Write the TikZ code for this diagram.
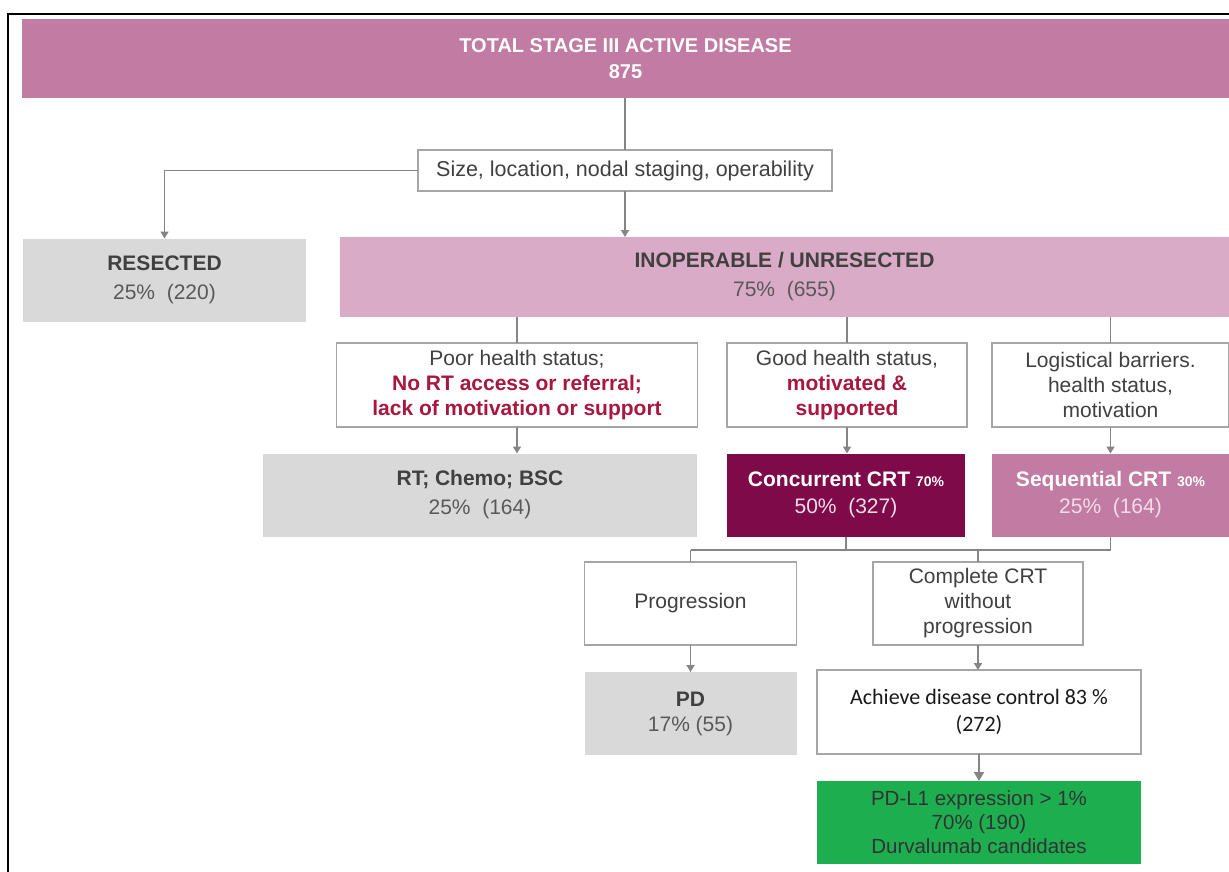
\documentclass[tikz,border=0pt]{standalone}
\usepackage{fontspec}
\setmainfont{Liberation Sans}
\newfontfamily\calib{Carlito}
\usetikzlibrary{arrows.meta}
\definecolor{mauve}{HTML}{C27BA2}
\definecolor{lpink}{HTML}{D9ABC7}
\definecolor{lgray}{HTML}{D9D9D9}
\definecolor{maroon}{HTML}{7E0A4A}
\definecolor{gbox}{HTML}{1DAF4F}
\definecolor{redt}{HTML}{A8173F}
\definecolor{txt}{HTML}{404040}
\definecolor{numt}{HTML}{595959}
\definecolor{lin}{HTML}{858585}
\definecolor{bord}{HTML}{A6A6A6}
\definecolor{ptxt}{HTML}{F3DDE9}
\begin{document}
\begin{tikzpicture}[x=1pt,y=-1pt,
  box/.style={inner sep=0pt, outer sep=0pt, align=center, text=txt, font=\fontsize{21}{25}\selectfont},
  wbox/.style={box, fill=white, draw=bord, line width=1.2pt},
  link/.style={draw=lin, line width=1.5pt},
  arr/.style={link, -{Triangle[width=8pt,length=7pt]}},
  two/.style={font=\fontsize{21}{29}\selectfont}]
\useasboundingbox (0,0) rectangle (1229,872);
\fill[white] (0,0) rectangle (1229,872);
\draw[black, line width=2pt] (8,872) -- (8,14) -- (1229,14);

\node[box, fill=mauve, minimum width=1207pt, minimum height=79pt, text=white,
  font=\bfseries\fontsize{20}{26}\selectfont] (top) at (625.5,59) {TOTAL STAGE III ACTIVE DISEASE\\875};
\node[wbox, minimum width=414pt, minimum height=41pt, font=\fontsize{21.5}{25}\selectfont] (size) at (625,170.5) {Size, location, nodal staging, operability};
\node[box, two, fill=lgray, minimum width=283pt, minimum height=83pt] (res) at (164.5,280) {\textbf{RESECTED}\\\textcolor{numt}{25\%\ \ (220)}};
\node[box, two, fill=lpink, minimum width=889pt, minimum height=80pt] (inop) at (784.5,277) {\textbf{INOPERABLE / UNRESECTED}\\\textcolor{numt}{75\%\ \ (655)}};

\node[wbox, minimum width=361pt, minimum height=84pt] (poor) at (517,385) {Poor health status;\\\textcolor{redt}{\textbf{No RT access or referral;}}\\\textcolor{redt}{\textbf{lack of motivation or support}}};
\node[wbox, minimum width=240pt, minimum height=84pt] (good) at (847,385) {Good health status,\\\textcolor{redt}{\textbf{motivated \&}}\\\textcolor{redt}{\textbf{supported}}};
\node[wbox, minimum width=237pt, minimum height=84pt] (logi) at (1110.5,385) {Logistical barriers.\\health status,\\motivation};

\node[box, two, fill=lgray, minimum width=434pt, minimum height=83pt] (rt) at (480,495) {\textbf{RT; Chemo; BSC}\\\textcolor{numt}{25\%\ \ (164)}};
\node[box, fill=maroon, minimum width=238pt, minimum height=83pt, text=ptxt, font=\fontsize{21}{27}\selectfont] (conc) at (846,495) {\textcolor{white}{\textbf{Concurrent CRT} {\fontsize{14}{14}\selectfont\bfseries 70\%}}\\50\%\ \ (327)};
\node[box, fill=mauve, minimum width=237pt, minimum height=83pt, text=ptxt, font=\fontsize{21}{27}\selectfont] (seq) at (1110.5,495) {\textcolor{white}{\textbf{Sequential CRT} {\fontsize{14}{14}\selectfont\bfseries 30\%}}\\25\%\ \ (164)};

\coordinate (j) at (700,550);
\node[wbox, minimum width=212pt, minimum height=83pt] (prog) at (690.5,603.5) {Progression};
\node[wbox, minimum width=210pt, minimum height=83pt] (comp) at (978,603.5) {Complete CRT\\without\\progression};
\node[box, fill=lgray, minimum width=212pt, minimum height=83pt] (pd) at (690.5,713.5) {\textbf{PD}\\\textcolor{numt}{17\% (55)}};
\node[wbox, minimum width=324pt, minimum height=84pt, text=black!90, font=\calib\fontsize{22}{27}\selectfont] (ach) at (979,712) {Achieve disease control 83 \%\\(272)};
\node[box, fill=gbox, minimum width=324pt, minimum height=83pt, text=black!80, font=\fontsize{20.5}{24}\selectfont] (grn) at (979,822.5) {PD-L1 expression > 1\%\\70\% (190)\\Durvalumab candidates};

\draw[link] (size.north |- top.south) -- (size.north);
\draw[arr] (size.west) -| (res.north);
\draw[arr] (size.south) -- (size.south |- inop.north);
\draw[link] (inop.south -| poor.north) -- (poor.north);
\draw[link] (inop.south -| good.north) -- (good.north);
\draw[link] (inop.south -| logi.north) -- (logi.north);
\draw[arr] (poor.south) -- (poor.south |- rt.north);
\draw[arr] (good.south) -- (good.south |- conc.north);
\draw[arr] (logi.south) -- (logi.south |- seq.north);
\draw[link] (conc.south) -- (conc.south |- j);
\draw[link] (seq.south) -- (seq.south |- j);
\draw[link] (prog.north |- j) -- (seq.south |- j);
\draw[link] (prog.north |- j) -- (prog.north);
\draw[link] (comp.north |- j) -- (comp.north);
\draw[arr] (prog.south) -- (prog.south |- pd.north);
\draw[arr] (comp.south) -- (comp.south |- ach.north);
\draw[link, line width=2pt, -{Triangle[width=10pt,length=9pt]}] (ach.south) -- (grn.north);
\end{tikzpicture}
\end{document}
